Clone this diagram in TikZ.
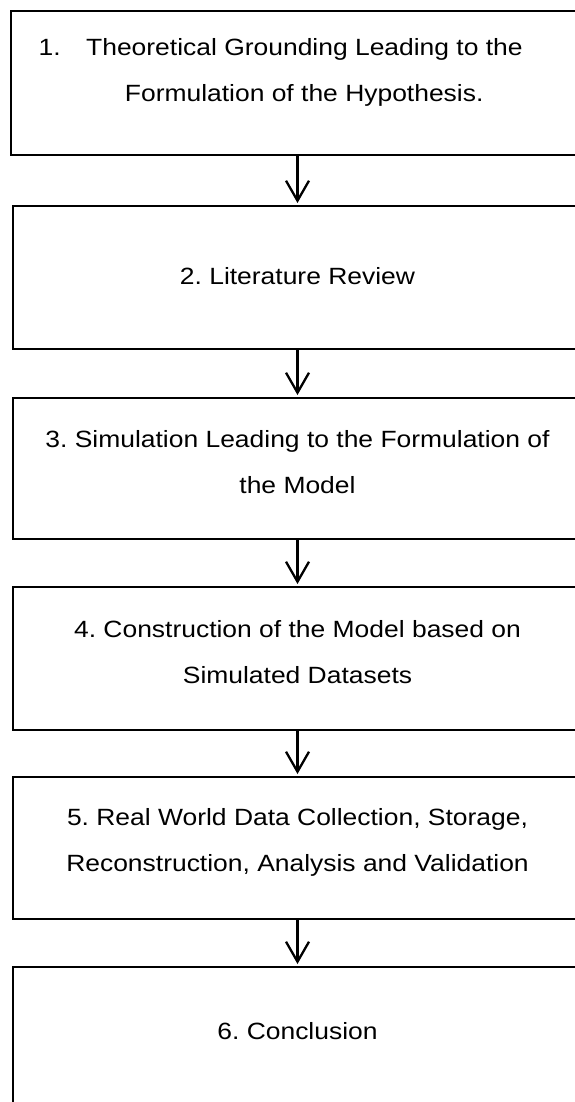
\documentclass[tikz,border=0pt]{standalone}
\usepackage{fontspec}
\setmainfont{Liberation Sans}[FakeStretch=1.125]
\usetikzlibrary{arrows.meta}
\frenchspacing
\begin{document}
\begin{tikzpicture}[x=1pt,y=-1pt,
  box/.style={draw, line width=1.6pt, rectangle, minimum width=569.6pt,
    minimum height=#1, inner sep=0pt, anchor=north},
  lbl/.style={font=\fontsize{23.5}{46}\selectfont, inner sep=0pt,
    align=center, anchor=base},
  flow/.style={line width=2.3pt, shorten >=2pt,
    -{Straight Barb[length=20pt,width=23pt,line width=2.3pt]}}]
\useasboundingbox (0,0) rectangle (575,1102);
\clip (0,0) rectangle (575,1102);

% process boxes
\node[box=144pt, minimum width=573pt] (b1) at (297.5,10) {};
\node[box=143pt] (b2) at (297.5,205) {};
\node[box=141pt] (b3) at (297.5,397) {};
\node[box=143pt] (b4) at (297.5,586) {};
\node[box=142pt] (b5) at (297.5,776) {};
\node[box=200pt] (b6) at (297.5,966) {};

% box texts (anchored at the baseline of the last line)
\node[lbl, align=left, anchor=base west] (t1) at (38.5,102)
  {\makebox[47.5pt][l]{1.}Theoretical Grounding Leading to the\\
   \hspace*{86.2pt}Formulation of the Hypothesis.};
\node[lbl] (t2) at (297.5,284) {2. Literature Review};
\node[lbl] (t3) at (297.5,493)
  {3. Simulation Leading to the Formulation of\\the Model};
\node[lbl] (t4) at (297.5,683)
  {4. Construction of the Model based on\\Simulated Datasets};
\node[lbl] (t5) at (297.5,871)
  {5. Real World Data Collection, Storage,\\Reconstruction, Analysis and Validation};
\node[lbl] (t6) at (297.5,1039) {6. Conclusion};

% connectors
\draw[flow] (b1.south) -- (b2.north);
\draw[flow] (b2.south) -- (b3.north);
\draw[flow] (b3.south) -- (b4.north);
\draw[flow] (b4.south) -- (b5.north);
\draw[flow] (b5.south) -- (b6.north);
\end{tikzpicture}
\end{document}
